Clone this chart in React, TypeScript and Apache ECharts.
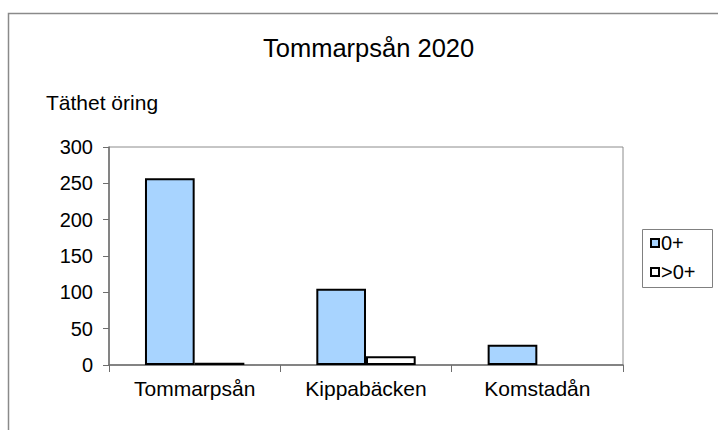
import React, { useEffect, useRef } from "react";
import * as echarts from "echarts";

const categories = ["Tommarpsån", "Kippabäcken", "Komstadån"];
const seriesNames = ["0+", ">0+"];
const youngValues = [257, 105, 28];
const olderValues = [3, 12, 0];
const yTicks = { min: 0, max: 300, interval: 50 };

const FONT = "'Liberation Sans', Arial, Helvetica, sans-serif";

const toBarData = (vals: number[]) =>
  vals.map((v) => (v === 0 ? { value: v, itemStyle: { borderWidth: 0 } } : v));

export default function App() {
  const ref = useRef<HTMLDivElement>(null);
  useEffect(() => {
    if (!ref.current) return;
    const chart = echarts.init(ref.current, null, { renderer: "svg" });
    chart.setOption({
      animation: false,
      backgroundColor: "#ffffff",
      textStyle: { fontFamily: FONT, color: "#000" },
      title: [
        {
          text: "Tommarpsån 2020",
          left: 263,
          top: 35,
          padding: 0,
          textStyle: { fontFamily: FONT, fontSize: 25.5, fontWeight: "normal", color: "#000" },
        },
        {
          text: "Täthet öring",
          left: 46,
          top: 92,
          padding: 0,
          textStyle: { fontFamily: FONT, fontSize: 21, fontWeight: "normal", color: "#000" },
        },
      ],
      graphic: [
        {
          type: "rect",
          shape: { x: 8.5, y: 13.5, width: 730, height: 440 },
          style: { fill: "none", stroke: "#8a8a8a", lineWidth: 1.5 },
          silent: true,
        },
        {
          type: "rect",
          shape: { x: 642.5, y: 229.5, width: 70, height: 58 },
          style: { fill: "#fff", stroke: "#808080", lineWidth: 1 },
          silent: true,
          z: -1,
        },
      ],
      legend: {
        orient: "vertical",
        left: 650,
        top: 233,
        padding: 0,
        itemWidth: 8,
        itemHeight: 8,
        itemGap: 9,
        icon: "rect",
        textStyle: { fontFamily: FONT, fontSize: 20, color: "#000", padding: [3, 0, 0, -3] },
        data: seriesNames,
      },
      grid: {
        left: 109,
        top: 147,
        width: 514,
        height: 218,
        show: true,
        borderColor: "#8c8c8c",
        borderWidth: 1,
        containLabel: false,
      },
      xAxis: {
        type: "category",
        data: categories,
        boundaryGap: true,
        axisLine: { show: true, lineStyle: { color: "#6e6e6e", width: 1.5 } },
        axisTick: { show: true, alignWithLabel: false, length: 7, lineStyle: { color: "#6e6e6e" } },
        axisLabel: { fontFamily: FONT, fontSize: 21, color: "#000", margin: 13 },
        splitLine: { show: false },
      },
      yAxis: {
        type: "value",
        min: yTicks.min,
        max: yTicks.max,
        interval: yTicks.interval,
        axisLine: { show: true, lineStyle: { color: "#6e6e6e", width: 1.5 } },
        axisTick: { show: true, length: 6, lineStyle: { color: "#6e6e6e" } },
        axisLabel: { fontFamily: FONT, fontSize: 20, color: "#000", margin: 16 },
        splitLine: { show: false },
      },
      series: [
        {
          name: seriesNames[0],
          type: "bar",
          data: toBarData(youngValues),
          barGap: "0%",
          barCategoryGap: "42%",
          itemStyle: { color: "#a8d4ff", borderColor: "#000", borderWidth: 2 },
        },
        {
          name: seriesNames[1],
          type: "bar",
          data: toBarData(olderValues),
          barGap: "0%",
          barCategoryGap: "42%",
          itemStyle: { color: "#ffffff", borderColor: "#000", borderWidth: 2 },
        },
      ],
    });
    return () => chart.dispose();
  }, []);
  return (
    <div
      ref={ref}
      style={{ position: "absolute", left: 0, top: 0, width: 718, height: 430 }}
    />
  );
}
